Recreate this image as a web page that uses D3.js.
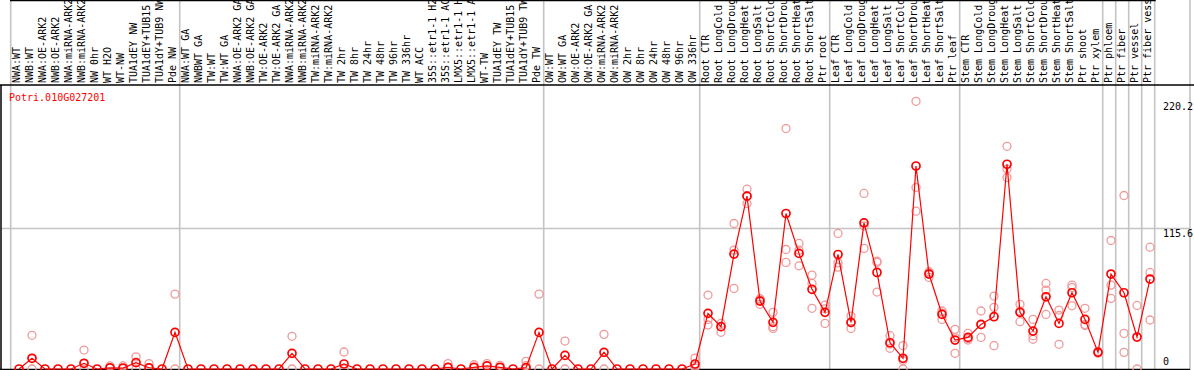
<!DOCTYPE html>
<html><head><meta charset="utf-8">
<script src="https://cdn.jsdelivr.net/npm/d3@7"></script>
<style>
body{margin:0;background:#fff}
svg{display:block}
text{font-family:"DejaVu Sans Mono",monospace;font-size:10px}
</style>
</head><body>
<svg id="chart" width="1194" height="370"></svg>
<script>
const title = "Potri.010G027201";
const categories = [
"NWA:WT","NWB:WT","NWA:OE-ARK2","NWB:OE-ARK2","NWA:miRNA-ARK2","NWB:miRNA-ARK2","NW 0hr","WT H2O","WT-NW","TUA1dEY NW","TUA1dEY+TUB15","TUA1dY+TUB9 NW","Pde NW",
"NWA:WT GA","NWBWT GA","TW:WT","TW:WT GA","NWA:OE-ARK2 GA","NWB:OE-ARK2 GA","TW:OE-ARK2","TW:OE-ARK2 GA","NWA:miRNA-ARK2","NWB:miRNA-ARK2","TW:miRNA-ARK2","TW:miRNA-ARK2","TW 2hr","TW 8hr","TW 24hr","TW 48hr","TW 96hr","TW 336hr","WT ACC","35S::etr1-1 H2O","35S::etr1-1 ACC","LMX5::etr1-1 H2O","LMX5::etr1-1 ACC","WT-TW","TUA1dEY TW","TUA1dEY+TUB15","TUA1dY+TUB9 TW","Pde TW",
"OW:WT","OW:WT GA","OW:OE-ARK2","OW:OE-ARK2 GA","OW:miRNA-ARK2","OW:miRNA-ARK2","OW 2hr","OW 8hr","OW 24hr","OW 48hr","OW 96hr","OW 336hr",
"Root CTR","Root LongCold","Root LongDrought","Root LongHeat","Root LongSalt","Root ShortCold","Root ShortDrought","Root ShortHeat","Root ShortSalt","Ptr root",
"Leaf CTR","Leaf LongCold","Leaf LongDrought","Leaf LongHeat","Leaf LongSalt","Leaf ShortCold","Leaf ShortDrought","Leaf ShortHeat","Leaf ShortSalt","Ptr leaf",
"Stem CTR","Stem LongCold","Stem LongDrought","Stem LongHeat","Stem LongSalt","Stem ShortCold","Stem ShortDrought","Stem ShortHeat","Stem ShortSalt","Ptr shoot","Ptr xylem",
"Ptr phloem","Ptr fiber","Ptr vessel","Ptr fiber vessel"
];
const meanValues = [
0,8.8,0,0,0,4.7,0,1,0.8,5.2,1,0,30.1,
0,0,0,0,0,0,0,0,12.9,0,0,0,4.1,0,0,0,0,0,0,0,1.4,0,1.4,2.5,1.4,0,1.1,30.1,
0,11.2,0,0,13.7,0,0,0,0,0,0,4.1,
45.8,34.8,94.5,142.2,55.9,38.4,127.9,95.1,65.5,46.6,
94.2,38.4,120.2,79.4,21.6,8.8,167,78.1,44.9,23.8,
26,36.7,43,168.4,46.6,31.2,59.4,37.5,62.7,40.8,13.7,
78.1,62.7,26.3,74
];
const replicateValues = [
[],[27.7,0],[],[],[],[15.6,0],[],[2.5],[2.5],[10,0],[4.4],[],[61.6,0],
[],[],[],[],[],[],[],[],[26.9,0],[],[],[],[14,0],[],[],[],[],[],[],[],[4.4],[],[3.5],[4.4],[3],[],[6.3,2.7],[61.6,0],
[],[23,0],[],[],[28.5,0],[],[],[],[],[],[],[9,2.5,1],
[60.8,40.8,36.2],[37.5,34.8,30.2],[119.7,97.8,66.3],[147.9,136.1,142.5],[53.2,56.7,57.8],[46.6,34.8,33.4],[197.8,98.3,87.7],[103.3,97.8,84.9],[77.2,70.4,49.9],[52.6,37.5,49.5],
[111.5,87.3,83.8],[43.5,38,33.4],[144.4,117.8,99.2],[88.7,87.7,63.3],[27.4,20.5,17],[19.2,7,0],[220.2,149.3,129.8],[80,75.3,78.9],[47.7,40.8,46],[32.6,12.9,25.8],
[29.3,23.8,25],[47.7,26,36.4],[60,50.7,19.2],[183.2,157.5,164.5],[53.2,38.9,47.7],[40.8,27.4,24.4],[70.4,64.9,44.9],[48.5,44,20.3],[69,67,52],[49.9,36.7,35.8],[14.5,13],
[105.7,69,58.1],[142.7,29.3,13.7],[52.3,0],[100.2,79.4,40.3]
];
const groupStarts = [0,13,41,53,63,73,84,85,86,87];
const yTickValues = [220.2, 115.6, 0];
const gridValue = 115.6;

const svg = d3.select("#chart");
const W = 1194, H = 370;
const headerBottom = 85;
const x = d3.scaleBand().domain(d3.range(categories.length)).range([10.7, 10.7 + categories.length * 13]).padding(0);
const y = d3.scaleLinear().domain([0, 220.2]).range([369, 101.3]);
const px = i => x(i) + 8.3;

// clip for header labels
const defs = svg.append("defs");
defs.append("clipPath").attr("id","hdr").append("rect").attr("x",0).attr("y",1).attr("width",W).attr("height",headerBottom-2);

// vertical grid lines
const gridX = groupStarts.map(i => x(i)).concat([x(categories.length-1) + x.bandwidth(), 1190]);
svg.append("g").selectAll("line").data(gridX).join("line")
  .attr("x1", d => d).attr("x2", d => d).attr("y1", 0).attr("y2", H)
  .attr("stroke", "#c4c4c4").attr("stroke-width", 1.6);

// horizontal grid
svg.append("line").attr("x1", 1).attr("x2", 1190).attr("y1", y(gridValue)).attr("y2", y(gridValue))
  .attr("stroke", "#c4c4c4").attr("stroke-width", 1.6);

// borders
svg.append("line").attr("x1", 10).attr("x2", x(categories.length-1) + x.bandwidth() + 1).attr("y1", 0.5).attr("y2", 0.5).attr("stroke", "#000").attr("stroke-width", 1.5);
svg.append("line").attr("x1", 0).attr("x2", W).attr("y1", headerBottom).attr("y2", headerBottom).attr("stroke", "#000").attr("stroke-width", 1.5);
svg.append("line").attr("x1", 1).attr("x2", 1).attr("y1", headerBottom).attr("y2", H).attr("stroke", "#000").attr("stroke-width", 1.5);
svg.append("line").attr("x1", 0).attr("x2", 1190).attr("y1", 369.5).attr("y2", 369.5).attr("stroke", "#000").attr("stroke-width", 1.5);

// header labels
svg.append("g").attr("clip-path","url(#hdr)").selectAll("text").data(categories).join("text")
  .attr("transform", (d, i) => `translate(${x(i) + 9.6},83) rotate(-90)`)
  .attr("fill", "#000").text(d => d);

// title
svg.append("text").attr("x", 9).attr("y", 101).attr("fill", "#ff0000").text(title);

// y tick labels
svg.append("g").selectAll("text").data(yTickValues).join("text")
  .attr("x", 1163)
  .attr("y", d => d === 0 ? y(d) - 4 : y(d) + 8.5)
  .attr("fill", "#000")
  .text(d => d === 0 ? "0" : d3.format(".1f")(d));

// replicate points
const reps = [];
replicateValues.forEach((arr, i) => arr.forEach(v => reps.push({i, v})));
svg.append("g").selectAll("circle").data(reps).join("circle")
  .attr("cx", d => px(d.i)).attr("cy", d => y(d.v)).attr("r", 4)
  .attr("fill", "none").attr("stroke", "#ef9a9a").attr("stroke-width", 1.3);

// mean line
const line = d3.line().x((d, i) => px(i)).y(d => y(d));
svg.append("path").datum(meanValues).attr("d", line)
  .attr("fill", "none").attr("stroke", "#ff0000").attr("stroke-width", 1.2);

// mean points
svg.append("g").selectAll("circle").data(meanValues).join("circle")
  .attr("cx", (d, i) => px(i)).attr("cy", d => y(d)).attr("r", 4)
  .attr("fill", "none").attr("stroke", "#ff0000").attr("stroke-width", 1.7);
</script>
</body></html>
